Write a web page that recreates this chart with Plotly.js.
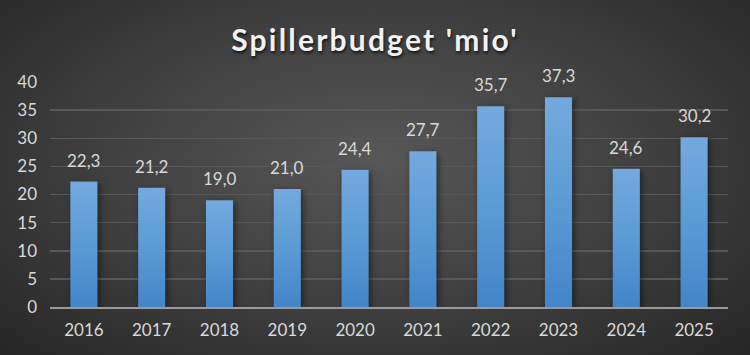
<!DOCTYPE html>
<html><head><meta charset="utf-8">
<script src="https://cdn.plot.ly/plotly-3.0.1.min.js"></script>
<style>
html,body{margin:0;padding:0;}
#chart{width:750px;height:355px;background:radial-gradient(ellipse at 50% 45%, #575757 0%, #3e3e3e 55%, #262626 100%);}
.gtitle{text-shadow:1px 2px 3px rgba(0,0,0,0.7);letter-spacing:2.2px;}
</style></head>
<body><div id="chart"></div>
<script>
const years = ['2016','2017','2018','2019','2020','2021','2022','2023','2024','2025'];
const budget = [22.3, 21.2, 19.0, 21.0, 24.4, 27.7, 35.7, 37.3, 24.6, 30.2];
const yTicks = [0,5,10,15,20,25,30,35,40];

const font = "Lato, 'Open Sans', sans-serif";
const trace = {
  type:'bar', x: years, y: budget,
  marker:{color:'#5b9bd5', line:{width:0}},
  hoverinfo:'none'
};
const annotations = years.map(function(yr,i){
  return {x:i, y:budget[i], xref:'x', yref:'y', yanchor:'bottom', yshift:9, showarrow:false,
          text: budget[i].toFixed(1).replace('.',','),
          font:{family:font, size:17, color:'#d9d9d9'}};
});
const layout = {
  width:750, height:355,
  paper_bgcolor:'rgba(0,0,0,0)', plot_bgcolor:'rgba(0,0,0,0)',
  separators:',.',
  margin:{l:50, r:22, t:82, b:48},
  title:{text:"Spillerbudget 'mio'", x:0.5, xanchor:'center', y:0.885, yanchor:'middle',
         font:{family:font, size:30, color:'#f2f2f2', weight:700}},
  bargap:0.6,
  showlegend:false,
  annotations: annotations,
  xaxis:{type:'category', range:[-0.5, 9.5], tickfont:{family:font, size:17, color:'#d9d9d9'}, showgrid:false,
         showline:true, linecolor:'#9a9a9a', linewidth:2, ticks:'', ticklabelstandoff:7, zeroline:false},
  yaxis:{range:[0,40], tickvals:yTicks, tickfont:{family:font, size:17, color:'#d9d9d9'},
         showgrid:true, gridcolor:'#585858', gridwidth:1.5, zeroline:false, showline:false,
         ticks:'', ticklabelstandoff:12}
};
Plotly.newPlot('chart',[trace],layout,{staticPlot:true}).then(function(gd){
  const svg = gd.querySelector('svg.main-svg');
  const ns='http://www.w3.org/2000/svg';
  let defs = svg.querySelector('defs');
  const lg = document.createElementNS(ns,'linearGradient');
  lg.setAttribute('id','barGrad'); lg.setAttribute('x1','0'); lg.setAttribute('y1','0'); lg.setAttribute('x2','0'); lg.setAttribute('y2','1');
  [['0%','#74a9de'],['50%','#5b9bd5'],['100%','#4285c8']].forEach(function(s){
    const st=document.createElementNS(ns,'stop'); st.setAttribute('offset',s[0]); st.setAttribute('stop-color',s[1]); lg.appendChild(st);
  });
  defs.appendChild(lg);
  gd.querySelectorAll('.bars .point path').forEach(function(p){
    p.style.fill='url(#barGrad)';
    p.style.filter='drop-shadow(2px 2px 3px rgba(0,0,0,0.5))';
  });
});
</script></body></html>
